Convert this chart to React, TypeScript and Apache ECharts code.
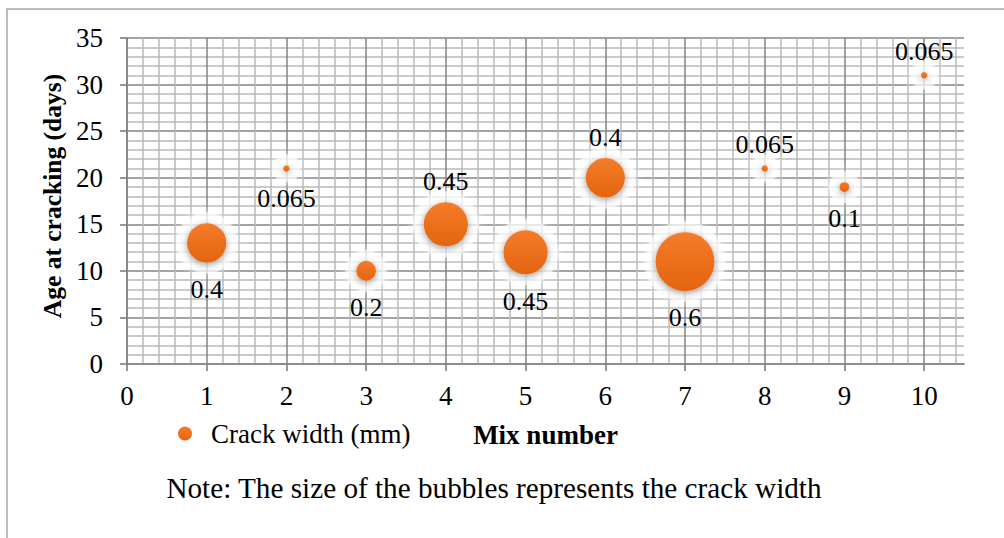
import React, { useEffect, useRef } from 'react';
import * as echarts from 'echarts';

// Bubble data: one bubble per mix
const mixNumbers = [1, 2, 3, 4, 5, 6, 7, 8, 9, 10];
const crackAgeDays = [13, 21, 10, 15, 12, 20, 11, 21, 19, 31];
const crackWidthMm = [0.4, 0.065, 0.2, 0.45, 0.45, 0.4, 0.6, 0.065, 0.1, 0.065];
const labelSide = ['bottom', 'bottom', 'bottom', 'top', 'bottom', 'top', 'bottom', 'top', 'bottom', 'top'];

// Axis ticks
const xTickValues = [0, 1, 2, 3, 4, 5, 6, 7, 8, 9, 10];
const yTickValues = [0, 5, 10, 15, 20, 25, 30, 35];

const SERIES_NAME = 'Crack width (mm)';
const X_TITLE = 'Mix number';
const Y_TITLE = 'Age at cracking (days)';
const NOTE = 'Note: The size of the bubbles represents the crack width';

const FONT = '"Liberation Serif", "Times New Roman", serif';
const MAJOR = '#858585';
const MINOR = '#b8b8b8';
const BUBBLE_SCALE = 98; // px of diameter per mm of crack width

export default function App() {
  const ref = useRef<HTMLDivElement>(null);

  useEffect(() => {
    if (!ref.current) return;
    const chart = echarts.init(ref.current, undefined, { renderer: 'svg' });

    const points = mixNumbers.map((m, i) => ({
      value: [m, crackAgeDays[i], crackWidthMm[i]],
      label: {
        position: labelSide[i],
        distance: labelSide[i] === 'top' ? 8 : 14,
      },
    }));

    const haloPoints = mixNumbers.map((m, i) => [m, crackAgeDays[i], crackWidthMm[i]]);

    const xMax = xTickValues[xTickValues.length - 1] + 0.5;
    const yMax = yTickValues[yTickValues.length - 1];

    chart.setOption({
      animation: false,
      backgroundColor: '#ffffff',
      grid: { left: 127, top: 38, right: 40, bottom: 174, containLabel: false },
      xAxis: [
        {
          // labelled axis
          type: 'value',
          min: 0,
          max: xMax,
          interval: 1,
          name: X_TITLE,
          nameLocation: 'middle',
          nameGap: 57,
          nameTextStyle: { fontFamily: FONT, fontSize: 27, fontWeight: 'bold', color: '#000' },
          axisLine: { show: true, lineStyle: { color: MAJOR, width: 1.7 } },
          axisTick: { show: true, customValues: xTickValues, length: 7, lineStyle: { color: MAJOR, width: 1.7 } },
          axisLabel: { customValues: xTickValues, margin: 18, fontFamily: FONT, fontSize: 27, color: '#000' },
          splitLine: { show: false },
          z: 2,
        },
        {
          // fine grid: every 0.2
          type: 'value',
          min: 0,
          max: xMax,
          interval: 0.2,
          axisLine: { show: false },
          axisTick: { show: false },
          axisLabel: { show: false },
          splitLine: {
            show: true,
            showMaxLine: false,
            lineStyle: { color: [MAJOR, MINOR, MINOR, MINOR, MINOR], width: 1.5 },
          },
          z: 1,
        },
      ],
      yAxis: [
        {
          type: 'value',
          min: 0,
          max: yMax,
          interval: 5,
          name: Y_TITLE,
          nameLocation: 'middle',
          nameGap: 62,
          nameTextStyle: { fontFamily: FONT, fontSize: 25.5, fontWeight: 'bold', color: '#000', padding: [0, 0, 0, 10] },
          axisLine: { show: true, lineStyle: { color: MAJOR, width: 1.7 } },
          axisTick: { show: true, length: 7, lineStyle: { color: MAJOR, width: 1.7 } },
          axisLabel: { margin: 24, fontFamily: FONT, fontSize: 27, color: '#000' },
          splitLine: { show: false },
          z: 2,
        },
        {
          // fine grid: every day
          type: 'value',
          min: 0,
          max: yMax,
          interval: 1,
          position: 'left',
          axisLine: { show: false },
          axisTick: { show: false },
          axisLabel: { show: false },
          splitLine: {
            show: true,
            lineStyle: { color: [MAJOR, MINOR, MINOR, MINOR, MINOR], width: 1.5 },
          },
          z: 1,
        },
      ],
      legend: {
        data: [SERIES_NAME],
        left: 173,
        top: 415,
        icon: 'circle',
        itemWidth: 14,
        itemHeight: 14,
        itemStyle: { shadowBlur: 0, shadowOffsetY: 0 },
        textStyle: { fontFamily: FONT, fontSize: 27, color: '#000', padding: [0, 0, 0, 14] },
      },
      series: [
        {
          // soft white glow behind each bubble
          type: 'scatter',
          name: 'glow',
          xAxisIndex: 0,
          yAxisIndex: 0,
          silent: true,
          data: haloPoints,
          symbolSize: (v: number[]) => v[2] * BUBBLE_SCALE + 22,
          itemStyle: {
            color: 'rgba(255,255,255,0.72)',
            shadowBlur: 12,
            shadowColor: 'rgba(255,255,255,1)',
          },
          label: { show: false },
          z: 3,
        },
        {
          type: 'scatter',
          name: SERIES_NAME,
          xAxisIndex: 0,
          yAxisIndex: 0,
          data: points,
          symbolSize: (v: number[]) => v[2] * BUBBLE_SCALE,
          itemStyle: {
            color: new echarts.graphic.LinearGradient(0, 0, 0, 1, [
              { offset: 0, color: '#f47c2a' },
              { offset: 1, color: '#e4640f' },
            ]),
            opacity: 1,
            shadowBlur: 7,
            shadowColor: 'rgba(0,0,0,0.4)',
            shadowOffsetY: 2,
          },
          label: {
            show: true,
            formatter: (p: any) => String(p.value[2]),
            fontFamily: FONT,
            fontSize: 26,
            color: '#000',
          },
          z: 4,
        },
      ],
      graphic: [
        {
          type: 'rect',
          silent: true,
          shape: { x: 7, y: 9, width: 1010, height: 540 },
          style: { fill: 'none', stroke: '#a9a9a9', lineWidth: 1.5 },
          z: 0,
        },
        {
          type: 'text',
          x: 494,
          y: 488,
          style: {
            text: NOTE,
            font: `29.2px ${FONT}`,
            fill: '#000',
            textAlign: 'center',
            textVerticalAlign: 'middle',
          },
        },
      ],
    });

    return () => chart.dispose();
  }, []);

  return (
    <div
      ref={ref}
      style={{ position: 'absolute', left: 0, top: 0, width: 1004, height: 538 }}
    />
  );
}
